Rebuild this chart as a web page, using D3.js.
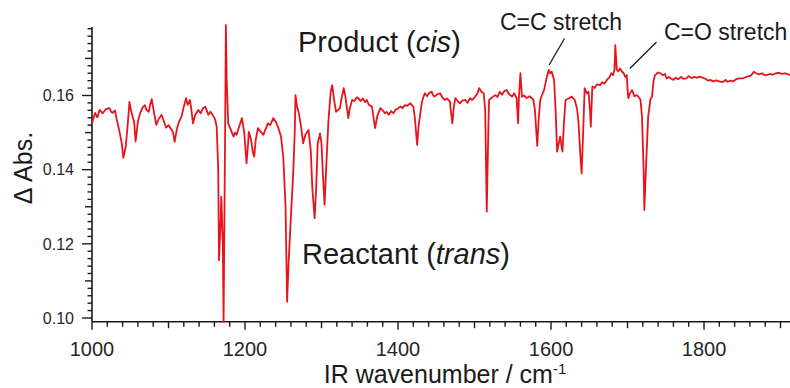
<!DOCTYPE html>
<html>
<head>
<meta charset="utf-8">
<script src="https://cdn.jsdelivr.net/npm/d3@7/dist/d3.min.js"></script>
<style>
  html, body { margin: 0; padding: 0; background: #fff; }
  svg { display: block; font-family: "Liberation Sans", Arial, Helvetica, sans-serif; }
</style>
</head>
<body>
<svg id="chart" width="790" height="388"></svg>
<script>
// Difference IR spectrum (product minus reactant), wavenumber in cm^-1
const wavenumber = [
  1000,1004,1007,1010,1014,1018,1023,1025,1027,1030,1032,1036,1039,1041,1044,1046,1049,1051,1053,1055,
  1057,1060,1063,1066,1069,1071,1074,1076,1078,1081,1084,1087,1091,1094,1097,1100,1104,1106,1108,1111,
  1113,1115,1117,1120,1123,1125,1128,1130,1132,1135,1139,1142,1145,1148,1150,1152,1155,1159,1161,1163,
  1165,1166,1168,1169,1171,1172,1174,1175,1176,1178,1181,1185,1187,1189,1193,1196,1199,1202,1204,1205,
  1208,1210,1212,1214,1217,1220,1224,1227,1230,1233,1237,1240,1243,1247,1250,1253,1255,1257,1260,1263,
  1265,1266,1268,1270,1273,1276,1279,1283,1286,1288,1291,1293,1295,1298,1300,1302,1304,1306,1309,1312,
  1314,1317,1319,1322,1324,1326,1329,1331,1335,1337,1340,1343,1346,1348,1351,1354,1357,1359,1362,1366,
  1368,1370,1373,1377,1380,1383,1385,1388,1391,1394,1397,1400,1403,1406,1409,1412,1416,1420,1422,1425,
  1427,1431,1433,1435,1438,1441,1444,1446,1448,1451,1455,1458,1461,1464,1468,1469,1471,1473,1475,1478,
  1481,1484,1488,1491,1494,1497,1501,1504,1506,1509,1512,1514,1516,1518,1519,1523,1527,1530,1533,1536,
  1539,1542,1545,1549,1552,1555,1557,1558,1560,1562,1565,1568,1572,1577,1579,1582,1584,1586,1588,1591,
  1594,1597,1599,1601,1604,1606,1608,1610,1612,1614,1615,1617,1619,1623,1627,1631,1634,1636,1638,1640,
  1642,1644,1647,1649,1651,1652,1654,1657,1660,1664,1667,1670,1673,1676,1679,1681,1683,1684,1686,1688,
  1690,1693,1695,1697,1699,1700,1701,1703,1706,1709,1712,1715,1717,1719,1721,1722,1724,1727,1730,1732,
  1734,1736,1740,1743,1746,1749,1751,1754,1757,1760,1763,1766,1770,1773,1777,1780,1784,1787,1791,1795,
  1798,1802,1805,1808,1812,1816,1820,1824,1828,1831,1835,1838,1842,1846,1851,1855,1859,1862,1865,1868,
  1872,1876,1879,1882,1886,1890,1894,1898,1902,1906,1910,1915
];
const deltaAbs = [
  .1525,.1553,.1541,.1561,.1552,.1563,.1566,.1556,.1553,.1560,.1539,.1502,.1470,.1432,.1461,.1505,.1583,.1560,.1543,.1530,
  .1476,.1530,.1553,.1567,.1574,.1562,.1556,.1575,.1590,.1555,.1521,.1536,.1548,.1530,.1513,.1520,.1508,.1500,.1475,.1510,
  .1525,.1535,.1543,.1570,.1593,.1575,.1588,.1560,.1525,.1548,.1561,.1552,.1565,.1570,.1560,.1548,.1556,.1543,.1535,.1516,
  .1400,.1156,.1250,.1327,.1200,.0990,.1500,.1790,.1650,.1525,.1510,.1489,.1500,.1494,.1520,.1539,.1500,.1417,.1470,.1502,
  .1480,.1450,.1435,.1480,.1512,.1503,.1494,.1510,.1525,.1520,.1539,.1530,.1516,.1490,.1435,.1300,.1044,.1150,.1273,.1390,
  .1500,.1601,.1570,.1556,.1520,.1471,.1495,.1507,.1450,.1350,.1269,.1350,.1470,.1498,.1470,.1380,.1305,.1400,.1530,.1610,
  .1628,.1580,.1556,.1562,.1566,.1590,.1620,.1600,.1539,.1565,.1588,.1585,.1595,.1593,.1585,.1592,.1582,.1588,.1575,.1570,
  .1540,.1512,.1545,.1566,.1560,.1552,.1556,.1548,.1558,.1552,.1562,.1565,.1570,.1566,.1574,.1572,.1579,.1570,.1540,.1467,
  .1520,.1579,.1595,.1606,.1598,.1608,.1610,.1600,.1597,.1603,.1606,.1595,.1588,.1592,.1583,.1560,.1525,.1570,.1593,.1585,
  .1579,.1586,.1588,.1580,.1593,.1588,.1597,.1606,.1620,.1610,.1606,.1560,.1287,.1500,.1588,.1595,.1601,.1596,.1610,.1602,
  .1612,.1615,.1604,.1597,.1606,.1593,.1525,.1593,.1660,.1597,.1600,.1593,.1598,.1588,.1560,.1464,.1540,.1588,.1600,.1615,
  .1645,.1669,.1660,.1664,.1642,.1560,.1449,.1470,.1489,.1460,.1449,.1530,.1588,.1592,.1597,.1588,.1565,.1525,.1450,.1390,
  .1500,.1620,.1606,.1610,.1560,.1516,.1624,.1620,.1630,.1628,.1636,.1632,.1642,.1648,.1660,.1655,.1670,.1736,.1669,.1665,
  .1673,.1664,.1660,.1650,.1655,.1620,.1593,.1605,.1615,.1598,.1601,.1595,.1588,.1540,.1400,.1291,.1400,.1543,.1590,.1597,
  .1640,.1655,.1662,.1660,.1655,.1658,.1646,.1650,.1645,.1642,.1648,.1644,.1650,.1645,.1646,.1652,.1647,.1650,.1648,.1651,
  .1648,.1645,.1640,.1642,.1638,.1641,.1638,.1636,.1642,.1637,.1640,.1638,.1644,.1646,.1646,.1650,.1652,.1655,.1664,.1660,
  .1657,.1660,.1655,.1655,.1658,.1656,.1660,.1661,.1658,.1660,.1657,.1656
];

const xTickLabels = [1000, 1200, 1400, 1600, 1800];
const yTickLabels = [0.10, 0.12, 0.14, 0.16];

const svg = d3.select("#chart");
const ink = "#1a1a1a";

const x = d3.scaleLinear().domain([1000, 1915]).range([92, 792]);
const y = d3.scaleLinear().domain([0.10, 0.16]).range([318, 95.5]);

const axisY0 = 0.099, axisY1 = 0.1785;

// bottom axis line
svg.append("line")
  .attr("x1", x(1000)).attr("x2", 790)
  .attr("y1", y(axisY0)).attr("y2", y(axisY0))
  .attr("stroke", ink).attr("stroke-width", 1.6);

// left axis line
svg.append("line")
  .attr("x1", x(1000)).attr("x2", x(1000))
  .attr("y1", y(axisY0)).attr("y2", y(axisY1))
  .attr("stroke", ink).attr("stroke-width", 1.6);

// x ticks: minor every 20, medium every 100, major every 200
const xTicks = d3.range(1000, 1915, 20);
svg.append("g").selectAll("line").data(xTicks).join("line")
  .attr("x1", d => x(d)).attr("x2", d => x(d))
  .attr("y1", y(axisY0))
  .attr("y2", d => y(axisY0) + (d % 200 === 0 ? 8 : d % 100 === 0 ? 6.5 : 5))
  .attr("stroke", ink).attr("stroke-width", 1.4);

svg.append("g").selectAll("text").data(xTickLabels).join("text")
  .attr("x", d => x(d)).attr("y", 355.5)
  .attr("text-anchor", "middle")
  .attr("font-size", 20).attr("fill", "#262626")
  .text(d => d);

// y ticks: minor every 0.002, medium every 0.01, major every 0.02
const yTicks = d3.range(50, 90).map(i => i * 0.002);
svg.append("g").selectAll("line").data(yTicks).join("line")
  .attr("x1", d => {
    const k = Math.round(d * 1000);
    return x(1000) - (k % 20 === 0 ? 10 : k % 10 === 0 ? 7 : 4.5);
  })
  .attr("x2", x(1000))
  .attr("y1", d => y(d)).attr("y2", d => y(d))
  .attr("stroke", ink).attr("stroke-width", 1.4);

svg.append("g").selectAll("text").data(yTickLabels).join("text")
  .attr("x", 74).attr("y", d => y(d) + 5.8)
  .attr("text-anchor", "end")
  .attr("font-size", 16).attr("fill", "#262626")
  .text(d => d.toFixed(2));

// axis titles
const xt = svg.append("text")
  .attr("x", 445).attr("y", 382.5)
  .attr("text-anchor", "middle")
  .attr("font-size", 25).attr("fill", ink);
xt.append("tspan").text("IR wavenumber / cm");
xt.append("tspan").attr("font-size", 15).attr("dy", -9).text("-1");

svg.append("text")
  .attr("transform", "translate(32,168) rotate(-90)")
  .attr("text-anchor", "middle")
  .attr("font-size", 25).attr("fill", ink)
  .text("\u0394 Abs.");

// spectrum trace
const points = wavenumber.map((w, i) => [w, deltaAbs[i]]);
svg.append("path")
  .datum(points)
  .attr("fill", "none")
  .attr("stroke", "#e8141c")
  .attr("stroke-width", 1.8)
  .attr("stroke-linejoin", "round")
  .attr("d", d3.line().x(d => x(d[0])).y(d => y(d[1])));

// band labels
const prod = svg.append("text")
  .attr("x", 298).attr("y", 52)
  .attr("font-size", 29).attr("fill", ink);
prod.append("tspan").text("Product (");
prod.append("tspan").attr("font-style", "italic").text("cis");
prod.append("tspan").text(")");

const reac = svg.append("text")
  .attr("x", 302).attr("y", 264)
  .attr("font-size", 29).attr("fill", ink);
reac.append("tspan").text("Reactant (");
reac.append("tspan").attr("font-style", "italic").text("trans");
reac.append("tspan").text(")");

// stretch annotations with leader lines
svg.append("text")
  .attr("x", 622).attr("y", 30)
  .attr("text-anchor", "end")
  .attr("font-size", 23).attr("fill", ink)
  .text("C=C stretch");
svg.append("line")
  .attr("x1", 564.5).attr("y1", 38.5).attr("x2", x(1597.5)).attr("y2", 65)
  .attr("stroke", ink).attr("stroke-width", 1.3);

svg.append("text")
  .attr("x", 664).attr("y", 40)
  .attr("font-size", 23).attr("fill", ink)
  .text("C=O stretch");
svg.append("line")
  .attr("x1", 656.5).attr("y1", 42).attr("x2", x(1703)).attr("y2", 68.5)
  .attr("stroke", ink).attr("stroke-width", 1.3);
</script>
</body>
</html>
